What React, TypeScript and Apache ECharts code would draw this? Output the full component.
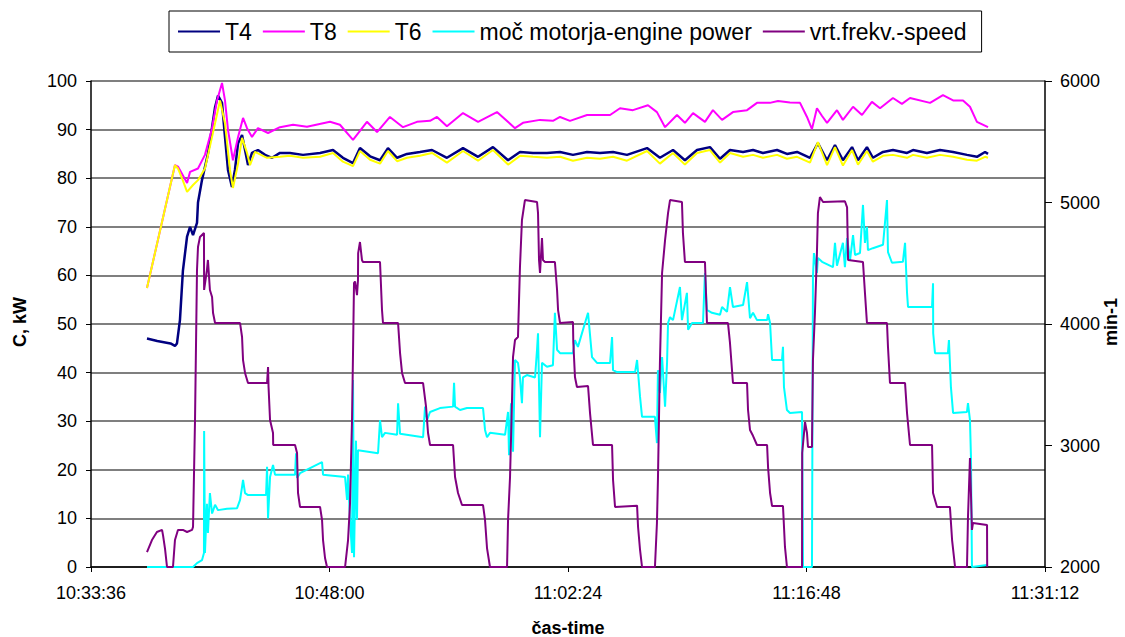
import React, { useEffect, useRef } from "react";
import * as echarts from "echarts";

// time in minutes after 10:33:36, values: temperature °C / power kW (left), speed min-1 (right)
const T4: [number, number][] = [
  [3.38, 47], [4.0, 46.5], [4.8, 46], [5.07, 45.5], [5.19, 46], [5.37, 50.8], [5.55, 61], [5.8, 68], [5.98, 70],
  [6.16, 68.3], [6.4, 70.8], [6.46, 75], [6.7, 79.6], [6.88, 82.3], [7.06, 85], [7.31, 90.5], [7.49, 94.6],
  [7.67, 97], [7.91, 95.5], [8.09, 88.5], [8.27, 81.7], [8.51, 78.2], [8.69, 81.7], [8.88, 87.2], [9.12, 88.9],
  [9.3, 85.8], [9.48, 82.7], [9.72, 85.2], [10.08, 85.8], [10.51, 84.8], [10.93, 84.2], [11.41, 85.2],
  [12.01, 85.2], [12.8, 84.8], [13.83, 85.2], [14.61, 85.8], [15.21, 84.2], [15.82, 83.1], [16.24, 86.2],
  [16.85, 84.5], [17.45, 83.7], [17.93, 86.2], [18.48, 84.2], [19.08, 85], [19.86, 85.4], [20.59, 85.8],
  [21.49, 84.2], [22.46, 86.2], [23.37, 84.4], [24.27, 86.4], [25.18, 83.7], [25.9, 85.4], [26.69, 85.2],
  [27.53, 85.2], [28.32, 85.4], [29.1, 84.8], [29.95, 85.4], [30.73, 85.2], [31.52, 85.4], [32.36, 84.8],
  [33.57, 86.2], [34.35, 84.2], [35.14, 85.8], [35.86, 83.7], [36.59, 85.8], [37.37, 86.4], [37.98, 84],
  [38.58, 85.8], [39.37, 85.4], [39.97, 85.8], [40.57, 85.2], [41.42, 85.8], [42.02, 85], [42.63, 85.4],
  [43.41, 84.2], [43.89, 87.2], [44.44, 83.7], [44.92, 86.8], [45.4, 83.7], [45.95, 86.4], [46.31, 83.7],
  [46.85, 86.4], [47.21, 84.2], [47.82, 85.4], [48.42, 85.8], [49.27, 85.2], [49.63, 85.8], [50.47, 85.2],
  [51.26, 85.8], [52.05, 85.4], [52.89, 84.8], [53.49, 84.4], [53.98, 85.4], [54.16, 85],
];

const T8: [number, number][] = [
  [3.38, 57.4], [5.07, 82.7], [5.25, 82.4], [5.8, 79], [5.98, 81.3], [6.46, 82], [6.88, 84.8], [7.31, 90.3],
  [7.61, 96], [7.91, 99.6], [8.09, 96], [8.27, 90], [8.57, 83.7], [8.88, 88.5], [9.18, 92.4], [9.42, 90.3],
  [9.72, 88.5], [10.08, 90.3], [10.69, 89.3], [11.41, 90.5], [12.2, 91], [13.04, 90.6], [14.43, 91.6],
  [15.03, 91], [15.82, 87.9], [16.66, 91.6], [17.27, 89.5], [18.05, 92.6], [18.84, 90.5], [19.68, 91.6],
  [20.47, 91.8], [20.89, 92.6], [21.49, 90.7], [22.46, 93.4], [23.37, 91.6], [24.51, 93.6], [25.6, 90.3],
  [26.08, 91.4], [27.11, 92], [27.89, 91.8], [28.32, 92.6], [28.92, 91.8], [29.95, 93], [31.34, 93],
  [31.94, 94.4], [32.72, 94], [33.63, 95], [34.17, 93.6], [34.66, 90.5], [35.38, 93], [35.86, 91.4],
  [36.35, 93.4], [37.07, 91.6], [37.55, 94], [38.1, 92], [38.76, 93.6], [39.61, 94], [40.21, 95.5],
  [40.99, 95.5], [41.48, 95.9], [42.2, 95.6], [42.81, 95.5], [43.23, 92.6], [43.53, 90.1], [43.83, 94.4],
  [44.14, 92.8], [44.44, 91.4], [45.04, 94], [45.4, 92], [46.01, 94.7], [46.55, 93], [47.15, 95.7],
  [47.64, 94.4], [48.42, 96.5], [48.96, 95.3], [49.45, 96.5], [50.66, 95.5], [51.44, 97.1], [52.05, 96],
  [52.65, 96], [53.07, 94.7], [53.49, 91.6], [54.16, 90.5],
];

const T6: [number, number][] = [
  [3.38, 57.4], [5.07, 82.7], [5.25, 82], [5.55, 79.5], [5.8, 77.2], [6.16, 78.6], [6.46, 79.6], [6.88, 82],
  [7.31, 88.5], [7.79, 96], [8.09, 91.3], [8.39, 81.7], [8.57, 78], [8.88, 83], [9.12, 88.3], [9.42, 85.2],
  [9.6, 82.7], [9.9, 85.4], [10.63, 84.2], [11.41, 84.4], [12.01, 84.6], [12.8, 84.2], [13.83, 84.4],
  [14.61, 85.2], [15.21, 83.4], [15.82, 82.5], [16.24, 85.6], [16.85, 83.8], [17.45, 83], [17.93, 85.6],
  [18.48, 83.5], [19.08, 84.2], [19.86, 84.6], [20.59, 85.2], [21.49, 83.2], [22.46, 85.6], [23.37, 83.6],
  [24.27, 85.8], [25.18, 82.8], [25.9, 84.6], [26.69, 84.4], [27.53, 84.2], [28.32, 84.4], [29.1, 83.6],
  [29.95, 84.2], [30.73, 84], [31.52, 84.4], [32.36, 83.6], [33.57, 85.6], [34.35, 83], [35.14, 85.2],
  [35.86, 82.8], [36.59, 85.2], [37.37, 85.8], [37.98, 83.2], [38.58, 85.2], [39.37, 84.4], [39.97, 84.8],
  [40.57, 84.2], [41.42, 84.8], [42.02, 84], [42.63, 84.4], [43.41, 83.2], [43.89, 87.4], [44.44, 82.7],
  [44.92, 86.4], [45.4, 82.6], [45.95, 85.8], [46.31, 82.8], [46.85, 85.6], [47.21, 83.4], [47.82, 84.6],
  [48.42, 84.8], [49.27, 84.2], [49.63, 84.8], [50.47, 84.2], [51.26, 84.8], [52.05, 84.4], [52.89, 83.8],
  [53.49, 83.6], [53.98, 84.4], [54.16, 84.2],
];

const POWER: [number, number][] = [
  [3.38, 0], [6.16, 0], [6.4, 0.8], [6.7, 1.4], [6.82, 2.9], [6.83, 28], [6.88, 2.9], [7.0, 13], [7.06, 7],
  [7.18, 15.2], [7.31, 11], [7.49, 12.8], [7.67, 11.7], [8.21, 12], [8.82, 12.1], [9.0, 13.8], [9.12, 16.5],
  [9.18, 17.9], [9.3, 15.2], [9.48, 14.8], [10.57, 14.8], [10.63, 20.6], [10.69, 10], [10.81, 18.5],
  [10.99, 21], [11.11, 19], [12.32, 19], [12.38, 23.4], [12.44, 18.3], [12.62, 19.3], [13.95, 21.6],
  [14.01, 19], [15.34, 18.5], [15.46, 13.8], [15.52, 19], [15.64, 9.7], [15.76, 2.9], [15.82, 38.5],
  [15.88, 2], [16.0, 26], [16.06, 9.7], [16.12, 24], [17.33, 23.4], [17.45, 30.2], [17.57, 26.7],
  [17.75, 27.6], [18.48, 27.2], [18.54, 33.7], [18.66, 27.4], [20.05, 26.7], [20.17, 33], [20.29, 30.2],
  [20.47, 31.9], [21.07, 32.7], [21.86, 33], [21.92, 37.9], [21.98, 33], [22.28, 32.3], [22.7, 32.7],
  [23.67, 32.7], [23.79, 28.2], [23.91, 26.7], [24.09, 27.6], [25.0, 27.2], [25.18, 31.9], [25.24, 23],
  [25.36, 33.7], [25.48, 23.7], [25.6, 42.6], [25.78, 42], [25.9, 39], [26.02, 33.7], [26.08, 39],
  [26.32, 39.5], [26.81, 39], [26.93, 44.7], [26.99, 48.1], [27.11, 26.7], [27.23, 42], [27.53, 41.2],
  [27.89, 41.5], [28.01, 52.3], [28.14, 44.7], [28.32, 44], [29.1, 44], [29.22, 46.7], [29.4, 45.3],
  [30.01, 52.3], [30.25, 43.2], [30.55, 42], [31.34, 42], [31.46, 47.3], [31.52, 40.5], [31.76, 40.1],
  [32.85, 40.1], [32.97, 42.6], [33.15, 35], [33.27, 30.9], [34.05, 30.9], [34.17, 25.5], [34.23, 40.5],
  [34.35, 35.8], [34.48, 43.2], [34.66, 33], [34.78, 42], [34.84, 50.2], [34.96, 51.4], [35.14, 50.8],
  [35.56, 57.6], [35.68, 50.8], [35.98, 56.4], [36.05, 48.8], [36.29, 50.2], [36.95, 50.2], [37.07, 60.5],
  [37.19, 52.9], [37.49, 52.3], [37.98, 51.9], [38.1, 53.5], [38.4, 52.5], [38.58, 57.6], [38.76, 53.5],
  [39.37, 53.9], [39.61, 58.6], [39.79, 51.2], [39.97, 52.3], [40.21, 50.8], [40.82, 50.8], [40.88, 52],
  [41.0, 50.2], [41.12, 42.6], [41.72, 42.6], [41.78, 45.3], [41.84, 37], [42.02, 32.3], [42.2, 31.7],
  [42.93, 31.9], [42.99, 0], [43.53, 0], [43.59, 59.7], [43.65, 64.6], [43.83, 60.5], [43.89, 63.6],
  [44.14, 62.8], [44.8, 61.7], [44.92, 66.7], [45.04, 62], [45.4, 66.7], [45.52, 61.7], [45.65, 67.7],
  [45.83, 63.2], [46.01, 68.3], [46.13, 64.2], [46.43, 64.6], [46.61, 74.5], [46.73, 66.7], [46.85, 70],
  [46.91, 65.2], [47.21, 65.6], [47.82, 66.3], [48.06, 75.5], [48.12, 64.8], [48.36, 62.6], [49.02, 62.8],
  [49.15, 66.7], [49.27, 56.4], [49.33, 53.5], [50.78, 53.5], [50.84, 58.4], [50.85, 48.1], [50.96, 44],
  [51.74, 44], [51.8, 46.7], [51.92, 37], [52.05, 31.7], [52.89, 31.9], [52.95, 33.7], [53.07, 30.2],
  [53.13, 22.6], [53.19, 0], [54.1, 0.4],
];

const SPEED: [number, number][] = [
  [3.38, 2123], [3.68, 2222], [3.98, 2288], [4.29, 2305], [4.35, 2260], [4.47, 2150], [4.59, 2000],
  [4.95, 2000], [5.07, 2222], [5.25, 2305], [5.55, 2305], [5.8, 2288], [6.1, 2305], [6.16, 2330],
  [6.28, 3210], [6.4, 4444], [6.46, 4634], [6.58, 4716], [6.82, 4749], [6.83, 4280], [7.0, 4444],
  [7.06, 4527], [7.18, 4280], [7.31, 4222], [7.37, 4090], [7.49, 4008], [9.0, 4008], [9.12, 3893],
  [9.18, 3703], [9.3, 3597], [9.48, 3514], [10.63, 3514], [10.69, 3646], [10.72, 3481], [10.81, 3210],
  [10.99, 3103], [11.0, 3004], [12.32, 3004], [12.44, 2938], [12.5, 2609], [12.62, 2494], [13.83, 2494],
  [13.95, 2387], [14.01, 2222], [14.13, 2074], [14.25, 2000], [15.34, 2000], [15.52, 2222], [15.64, 2527],
  [15.76, 3210], [15.82, 3761], [15.88, 4337], [15.94, 4350], [16.06, 4238], [16.12, 4362], [16.13, 4584],
  [16.24, 4675], [16.36, 4527], [16.42, 4510], [17.45, 4510], [17.57, 4115], [17.63, 4008], [18.54, 4008],
  [18.66, 3761], [18.78, 3597], [18.96, 3514], [20.05, 3514], [20.23, 3317], [20.35, 3103], [20.47, 3004],
  [21.86, 3004], [21.98, 2741], [22.16, 2609], [22.4, 2510], [23.67, 2510], [23.79, 2387], [23.91, 2156],
  [24.09, 2000], [25.12, 2000], [25.18, 2387], [25.3, 2741], [25.42, 3374], [25.48, 3728], [25.6, 3868],
  [25.78, 3893], [25.9, 4469], [26.02, 4856], [26.2, 5020], [26.93, 5004], [26.99, 4913], [27.05, 4527],
  [27.11, 4420], [27.23, 4708], [27.29, 4527], [27.41, 4510], [28.01, 4510], [28.14, 4280], [28.2, 4115],
  [28.32, 4008], [29.1, 4016], [29.12, 3850], [29.22, 3564], [29.34, 3481], [30.01, 3490], [30.13, 3267],
  [30.31, 3004], [31.46, 3004], [31.52, 2716], [31.64, 2494], [32.97, 2505], [33.03, 2329], [33.15, 2140],
  [33.27, 2000], [34.05, 2000], [34.17, 2362], [34.23, 2716], [34.35, 3679], [34.48, 4420], [34.66, 4691],
  [34.84, 4913], [34.96, 5020], [35.68, 5004], [35.74, 4749], [35.86, 4510], [37.07, 4510], [37.19, 4008],
  [38.46, 4008], [38.58, 3844], [38.76, 3514], [39.61, 3514], [39.67, 3292], [39.79, 3127], [39.97, 3080],
  [40.21, 3004], [40.82, 3004], [40.88, 2820], [41.0, 2609], [41.12, 2502], [41.78, 2502], [41.9, 2165],
  [42.02, 2000], [42.93, 2000], [42.94, 2938], [43.11, 3193], [43.23, 3103], [43.29, 2988], [43.53, 2988],
  [43.59, 3704], [43.71, 4090], [43.83, 4584], [43.89, 4913], [44.01, 5045], [44.2, 5004], [45.52, 5010],
  [45.65, 4960], [45.71, 4527], [46.61, 4510], [46.73, 4255], [46.85, 4008], [48.06, 4008], [48.12, 3811],
  [48.24, 3514], [49.15, 3514], [49.27, 3267], [49.45, 3004], [50.78, 3004], [50.84, 2609], [51.08, 2494],
  [51.86, 2494], [51.99, 2222], [52.17, 2000], [52.89, 2000], [52.95, 2411], [53.07, 2897], [53.19, 2305],
  [53.25, 2362], [54.1, 2346], [54.11, 2000],
];

const SERIES_NAMES = ["T4", "T8", "T6", "moč motorja-engine power", "vrt.frekv.-speed"];
const SERIES_COLORS = ["#000080", "#FF00FF", "#FFFF00", "#00FFFF", "#800080"];
const START_SECONDS = 10 * 3600 + 33 * 60 + 36;
const FONT = "'Liberation Sans', Arial, sans-serif";

function clock(m: number): string {
  const s = START_SECONDS + Math.round(m * 60);
  const hh = Math.floor(s / 3600);
  const mm = Math.floor((s % 3600) / 60);
  const ss = s % 60;
  const p = (n: number) => (n < 10 ? "0" + n : "" + n);
  return `${p(hh)}:${p(mm)}:${p(ss)}`;
}

export default function App() {
  const ref = useRef<HTMLDivElement>(null);
  useEffect(() => {
    if (!ref.current) return;
    const chart = echarts.init(ref.current, undefined, { renderer: "svg" });
    const datasets = [T4, T8, T6, POWER, SPEED];
    const axisLine = { show: true, lineStyle: { color: "#000", width: 1.5 } };
    chart.setOption({
      animation: false,
      backgroundColor: "#fff",
      textStyle: { fontFamily: FONT },
      legend: {
        data: SERIES_NAMES.map((name) => ({ name, icon: "rect" })),
        left: 169,
        top: 11,
        padding: [9, 15, 9, 9],
        itemGap: 11,
        itemWidth: 42,
        itemHeight: 2,
        borderColor: "#000",
        borderWidth: 1,
        textStyle: { fontSize: 23, color: "#000", fontFamily: FONT },
      },
      grid: { left: 91, right: 80, top: 81, bottom: 70, containLabel: false },
      xAxis: {
        type: "value",
        min: 0,
        max: 57.6,
        interval: 14.4,
        axisLine,
        axisTick: { show: true, length: 5, lineStyle: { color: "#000" } },
        axisLabel: { fontSize: 18, color: "#000", margin: 17, formatter: (v: number) => clock(v) },
        splitLine: { show: false },
      },
      yAxis: [
        {
          type: "value",
          min: 0,
          max: 100,
          interval: 10,
          axisLine,
          axisTick: { show: true, length: 5, lineStyle: { color: "#000" } },
          axisLabel: { fontSize: 18, color: "#000", margin: 14 },
          splitLine: { show: true, lineStyle: { color: "#555", width: 1.5 } },
        },
        {
          type: "value",
          min: 2000,
          max: 6000,
          interval: 1000,
          position: "right",
          axisLine,
          axisTick: { show: true, length: 7, lineStyle: { color: "#000" } },
          axisLabel: { fontSize: 18, color: "#000", margin: 15, formatter: (v: number) => String(v) },
          splitLine: { show: false },
        },
      ],
      series: SERIES_NAMES.map((name, i) => ({
        name,
        type: "line",
        yAxisIndex: i === 4 ? 1 : 0,
        data: datasets[i],
        symbol: "none",
        showSymbol: false,
        lineStyle: { color: SERIES_COLORS[i], width: i === 0 ? 2.5 : 2 },
        itemStyle: { color: SERIES_COLORS[i] },
        z: 2 + i,
      })),
      graphic: [
        {
          type: "text",
          x: 20,
          y: 322,
          rotation: Math.PI / 2,
          style: { text: "C, kW", fontSize: 18, fontWeight: "bold", fill: "#000", fontFamily: FONT, align: "center", verticalAlign: "middle" },
        },
        {
          type: "text",
          x: 1111,
          y: 322,
          rotation: Math.PI / 2,
          style: { text: "min-1", fontSize: 18, fontWeight: "bold", fill: "#000", fontFamily: FONT, align: "center", verticalAlign: "middle" },
        },
        {
          type: "text",
          x: 568,
          y: 628,
          style: { text: "čas-time", fontSize: 18, fontWeight: "bold", fill: "#000", fontFamily: FONT, align: "center", verticalAlign: "middle" },
        },
      ],
    });
    return () => chart.dispose();
  }, []);
  return <div ref={ref} style={{ position: "fixed", left: 0, top: 0, width: 1125, height: 637 }} />;
}
